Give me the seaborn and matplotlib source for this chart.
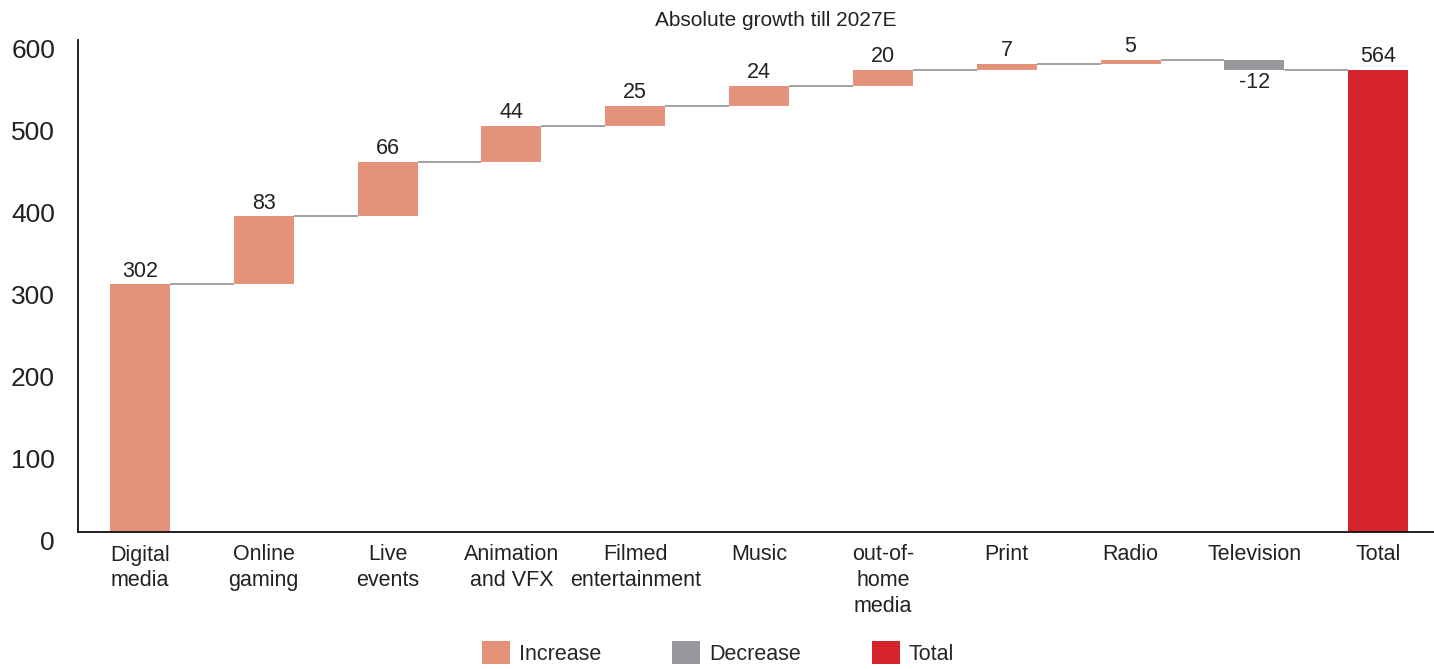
import numpy as np
import pandas as pd
import matplotlib
matplotlib.use("Agg")
import matplotlib.pyplot as plt
import matplotlib.transforms as mtransforms
from matplotlib.patches import Patch
import seaborn as sns

categories = ["Digital\nmedia", "Online\ngaming", "Live\nevents", "Animation\nand VFX",
              "Filmed\nentertainment", "Music", "out-of-\nhome\nmedia", "Print", "Radio",
              "Television", "Total"]
values = [302, 83, 66, 44, 25, 24, 20, 7, 5, -12, 564]
kinds = ["Increase"] * 9 + ["Decrease", "Total"]
yticks = [0, 100, 200, 300, 400, 500, 600]
title = "Absolute growth till 2027E"

colors = {"Increase": "#E4937A", "Decrease": "#98989C", "Total": "#D4232B"}

sns.set_theme(style="white")
plt.rcParams["font.family"] = ["Liberation Sans", "DejaVu Sans"]

vals = np.array(values, dtype=float)
steps = vals[:-1]
ends = np.cumsum(steps)
starts = np.concatenate([[0], ends[:-1]])
starts = np.append(starts, 0.0)
ends = np.append(ends, vals[-1])
tops = np.maximum(starts, ends)
bots = np.minimum(starts, ends)

df = pd.DataFrame({"cat": categories, "top": tops, "bot": bots, "kind": kinds})

fig = plt.figure(figsize=(14.34, 6.69), dpi=100)
ax = fig.add_axes([78 / 1434, 1 - 532 / 669, 1 - 78 / 1434, (532 - 40) / 669])

bw = 0.485
sns.barplot(data=df, x="cat", y="top", hue="kind", palette=colors, dodge=False,
            width=bw, linewidth=0, saturation=1, legend=False, ax=ax, zorder=2)
sns.barplot(data=df, x="cat", y="bot", color="white", width=bw, linewidth=0.8,
            edgecolor="white", saturation=1, ax=ax, zorder=3)

# connectors
n = len(categories)
for i in range(n - 1):
    lvl = ends[i]
    ax.hlines(lvl, i + bw / 2, i + 1 - bw / 2, color="#9a9a9a", linewidth=1.3, zorder=1)

# value labels
for i, v in enumerate(values):
    if v >= 0:
        ax.annotate(f"{v}", (i, tops[i]), xytext=(0, 2), textcoords="offset points",
                    ha="center", va="bottom", fontsize=15.5, color="#222222", zorder=5)
    else:
        ax.annotate(f"{v}", (i, bots[i]), xytext=(0, -2), textcoords="offset points",
                    ha="center", va="top", fontsize=15.5, color="#222222", zorder=5)

ax.set_xlim(-0.5, n - 1 + 0.45)
ax.set_ylim(0, 600)
ax.set_yticks(yticks)
ax.set_yticklabels([str(t) for t in yticks], fontsize=19, color="#222222")
ax.tick_params(axis="y", length=0, pad=16.5)
ax.tick_params(axis="x", length=0, pad=9, labelsize=15.5, labelcolor="#222222")
for lab in ax.get_xticklabels():
    lab.set_linespacing(1.3)
ax.set_xlabel("")
ax.set_ylabel("")
for s in ["top", "right"]:
    ax.spines[s].set_visible(False)
for s in ["left", "bottom"]:
    ax.spines[s].set_color("#111111")
    ax.spines[s].set_linewidth(1.3)
    ax.spines[s].set_zorder(10)

off = mtransforms.ScaledTranslation(0, -8 / 100, fig.dpi_scale_trans)
for lab in ax.get_yticklabels():
    lab.set_transform(lab.get_transform() + off)

fig.text(776 / 1434, 1 - 20 / 669, title, ha="center", va="center", fontsize=15, color="#222222")

handles = [Patch(facecolor=colors[k], edgecolor="none", label=k) for k in ["Increase", "Decrease", "Total"]]
fig.legend(handles=handles, loc="upper center", bbox_to_anchor=(718 / 1434, 1 - 641 / 669),
           ncol=3, frameon=False, fontsize=15.5, handlelength=1.3, handleheight=1.3,
           handletextpad=0.4, columnspacing=3.3, borderpad=0, borderaxespad=0)

fig.savefig("out.png", dpi=100)
